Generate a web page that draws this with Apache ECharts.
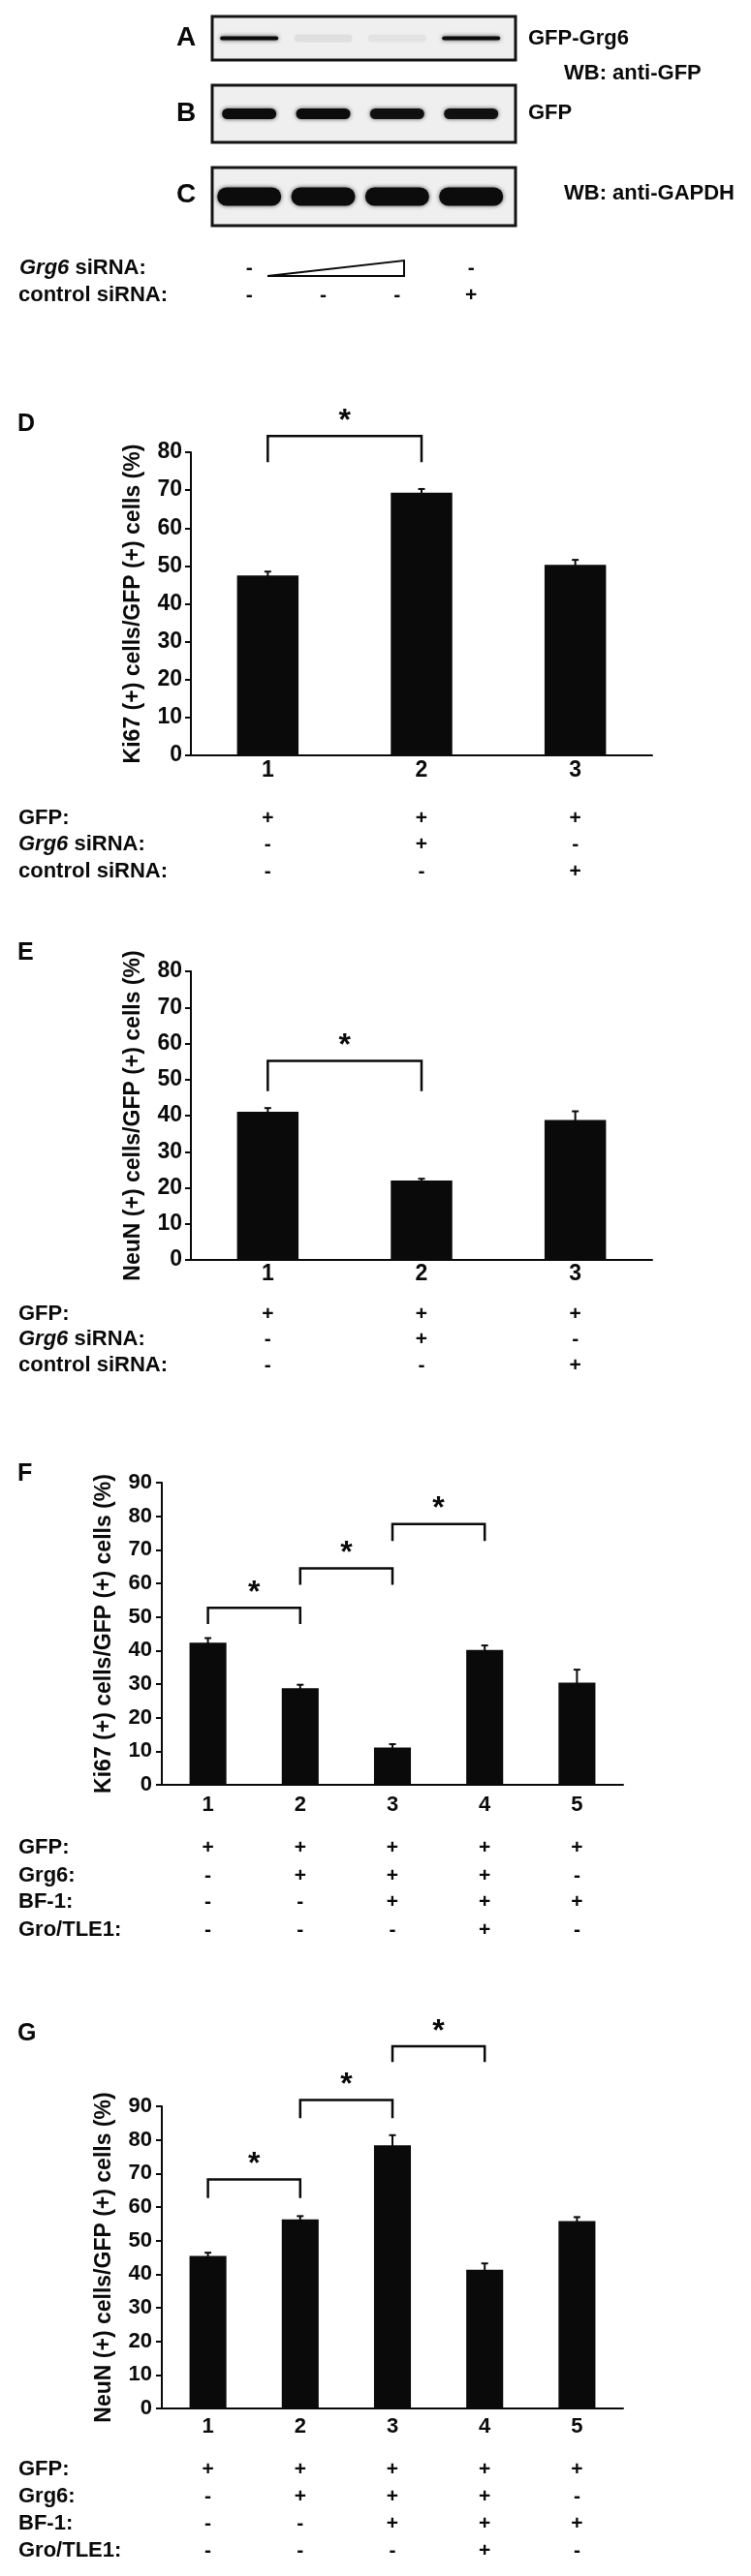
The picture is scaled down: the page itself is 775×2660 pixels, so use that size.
<!DOCTYPE html>
<html lang="en">
<head>
    <meta charset="UTF-8">
    <title>Grg6 siRNA figure</title>
    <script src="https://cdn.jsdelivr.net/npm/echarts@6/dist/echarts.min.js"></script>
    <style>
        html, body { margin: 0; padding: 0; background: #fff; }
    </style>
</head>
<body>
<div id="fig" style="width: 775px;height:2660px;"></div>
<script type="text/javascript">
    // ---- data ----
    var lanes = [1, 2, 3, 4];
    var blotA = [1, 0.07, 0.05, 1];        // GFP-Grg6 band strength
    var blotB = [1, 1, 0.95, 0.95];        // GFP
    var blotC = [1, 1, 1, 1];              // GAPDH
    var wbGrg6Signs = ['-', '', '', '-'];
    var wbControlSigns = ['-', '-', '-', '+'];

    var groups3 = ['1', '2', '3'];
    var ki67D = [47.5, 69.3, 50.3];
    var ki67DErr = [1.0, 1.0, 1.3];
    var neunE = [41.1, 22.0, 38.8];
    var neunEErr = [1.0, 0.5, 2.4];
    var rowNames3 = ['GFP:', '{i|Grg6} siRNA:', 'control siRNA:'];
    var gfp3 = ['+', '+', '+'];
    var grg6si3 = ['-', '+', '-'];
    var ctrlsi3 = ['-', '-', '+'];

    var groups5 = ['1', '2', '3', '4', '5'];
    var ki67F = [42.3, 28.8, 11.1, 40.2, 30.4];
    var ki67FErr = [1.4, 1.0, 1.0, 1.3, 3.9];
    var neunG = [45.4, 56.3, 78.4, 41.3, 55.8];
    var neunGErr = [1.0, 1.0, 3.0, 1.9, 1.2];
    var rowNames5 = ['GFP:', 'Grg6:', 'BF-1:', 'Gro/TLE1:'];
    var gfp5 = ['+', '+', '+', '+', '+'];
    var grg65 = ['-', '+', '+', '+', '-'];
    var bf15 = ['-', '-', '+', '+', '+'];
    var tle15 = ['-', '-', '-', '+', '-'];

    // significance brackets: [from, to, bracket level, leg end]
    var sigD = [[0, 1, 84.3, 77.4]];
    var sigE = [[0, 1, 55.2, 46.8]];
    var sigF = [[0, 1, 52.7, 47.9], [1, 2, 64.5, 59.6], [2, 3, 77.7, 72.6]];
    var sigG = [[0, 1, 68.2, 62.7], [1, 2, 91.9, 86.5], [2, 3, 107.9, 103.2]];

    var FONT = '"Liberation Sans", Arial, Helvetica, sans-serif';
    var INK = '#0a0a0a';

    var grids = [], xAxes = [], yAxes = [], series = [], graphics = [];

    function label(x, y, txt, size, align) {
        graphics.push({
            type: 'text', x: x, y: y, silent: true,
            style: {
                text: txt, fill: INK, fontFamily: FONT, fontWeight: 'bold', fontSize: size,
                align: align || 'left', verticalAlign: 'middle',
                rich: {i: {fontStyle: 'italic', fontWeight: 'bold', fontSize: size, fontFamily: FONT, fill: INK}}
            }
        });
    }

    // western blot strip
    function addBlot(box, bands, bw, bh) {
        var gi = grids.length;
        grids.push({left: box[0], top: box[1], width: box[2], height: box[3], show: true,
            borderColor: '#141414', borderWidth: 3, backgroundColor: '#efefef'});
        xAxes.push({gridIndex: gi, type: 'value', min: 0.5, max: 4.6, show: false});
        yAxes.push({gridIndex: gi, type: 'value', min: 0, max: 1, show: false});
        series.push({
            type: 'custom', xAxisIndex: gi, yAxisIndex: gi, silent: true,
            data: lanes.map(function (l, i) { return [l, bands[i]]; }),
            renderItem: function (params, api) {
                var c = api.coord([api.value(0), 0.5]);
                var k = api.value(1);
                var h = k < 0.5 ? bh + 4 : bh;
                return {
                    type: 'rect',
                    shape: {x: c[0] - bw / 2, y: c[1] - h / 2, width: bw, height: h, r: h / 2},
                    style: {fill: 'rgba(12,12,12,' + k + ')', shadowBlur: 4, shadowColor: 'rgba(0,0,0,' + (0.7 * k) + ')'}
                };
            }
        });
        return gi;
    }

    function renderErr(params, api) {
        var base = api.coord([api.value(0), api.value(1)]);
        var top = api.coord([api.value(0), api.value(1) + api.value(2)]);
        var st = {stroke: INK, lineWidth: 2};
        return {type: 'group', children: [
            {type: 'line', shape: {x1: base[0], y1: base[1] + 2, x2: top[0], y2: top[1]}, style: st},
            {type: 'line', shape: {x1: top[0] - 3.5, y1: top[1], x2: top[0] + 3.5, y2: top[1]}, style: st}
        ]};
    }

    function renderBracket(params, api) {
        var a = api.coord([api.value(0), api.value(3)]);
        var b = api.coord([api.value(0), api.value(2)]);
        var c = api.coord([api.value(1), api.value(2)]);
        var d = api.coord([api.value(1), api.value(3)]);
        return {type: 'group', children: [
            {type: 'polyline', shape: {points: [a, b, c, d]}, style: {stroke: INK, lineWidth: 2.5, fill: null}},
            {type: 'text', x: (b[0] + c[0]) / 2, y: b[1] - 15,
                style: {text: '*', fill: INK, fontFamily: FONT, fontWeight: 'bold', fontSize: 32,
                    align: 'center', verticalAlign: 'middle'}}
        ]};
    }

    function addBarPanel(p) {
        var gi = grids.length;
        grids.push({left: p.left, top: p.top, width: p.width, height: p.height});
        var axisStyle = {color: INK, width: 2};
        var xi = xAxes.length;
        xAxes.push({
            gridIndex: gi, type: 'category', data: p.groups,
            axisLine: {lineStyle: axisStyle},
            axisTick: {length: 6, lineStyle: axisStyle},
            axisLabel: {color: INK, fontFamily: FONT, fontWeight: 'bold', fontSize: p.fs,
                margin: p.numGap, verticalAlign: 'middle'}
        });
        p.rows.forEach(function (signs, r) {
            xAxes.push({
                gridIndex: gi, type: 'category', position: 'bottom', offset: p.rowGaps[r], data: p.groups,
                axisLine: {show: false}, axisTick: {show: false}, splitLine: {show: false},
                axisLabel: {interval: 0, margin: 0, verticalAlign: 'middle', color: INK, fontFamily: FONT,
                    fontWeight: 'bold', fontSize: 21,
                    formatter: function (v, i) { return signs[i]; }}
            });
            label(19, p.top + p.height + p.rowGaps[r], p.rowNames[r], 22);
        });
        var yi = yAxes.length;
        yAxes.push({
            gridIndex: gi, type: 'value', min: 0, max: p.yMax, interval: 10,
            name: p.yName, nameLocation: 'middle', nameGap: p.nameGap,
            nameTextStyle: {color: INK, fontFamily: FONT, fontWeight: 'bold', fontSize: 23},
            axisLine: {show: true, lineStyle: axisStyle},
            axisTick: {show: true, length: 6, lineStyle: axisStyle},
            splitLine: {show: false},
            axisLabel: {color: INK, fontFamily: FONT, fontWeight: 'bold', fontSize: p.fs, margin: p.labGap}
        });
        series.push({type: 'bar', xAxisIndex: xi, yAxisIndex: yi, data: p.values, barWidth: '40%',
            itemStyle: {color: INK}, silent: true});
        series.push({type: 'custom', xAxisIndex: xi, yAxisIndex: yi, silent: true, z: 3,
            data: p.values.map(function (v, i) { return [i, v, p.errors[i]]; }),
            renderItem: renderErr});
        series.push({type: 'custom', xAxisIndex: xi, yAxisIndex: yi, silent: true, clip: false,
            encode: {x: [0, 1], y: [2, 3]}, data: p.sig, renderItem: renderBracket});
        label(18, p.letterY, p.letter, 25);
    }

    // ---- panels A-C ----
    addBlot([219, 17, 313, 45], blotA, 60, 4);
    addBlot([219, 88, 313, 59], blotB, 56, 11);
    var gC = addBlot([219, 173, 313, 60], blotC, 66, 19);
    series.push({
        type: 'custom', xAxisIndex: gC, yAxisIndex: gC, silent: true, clip: false,
        data: lanes.map(function (l, i) { return [l, i]; }),
        renderItem: function (params, api) {
            var i = api.value(1);
            var p = api.coord([api.value(0), 0]);
            var st = {fill: INK, fontFamily: FONT, fontWeight: 'bold', fontSize: 21, align: 'center', verticalAlign: 'middle'};
            return {type: 'group', children: [
                {type: 'text', x: p[0], y: p[1] + 44, style: Object.assign({text: wbGrg6Signs[i]}, st)},
                {type: 'text', x: p[0], y: p[1] + 72, style: Object.assign({text: wbControlSigns[i]}, st)}
            ]};
        }
    });
    graphics.push({type: 'polygon', silent: true, shape: {points: [[276, 285], [417, 269], [417, 285]]},
        style: {fill: '#fff', stroke: INK, lineWidth: 2}});
    label(192, 39, 'A', 28, 'center');
    label(192, 117, 'B', 28, 'center');
    label(192, 201, 'C', 28, 'center');
    label(545, 40, 'GFP-Grg6', 22);
    label(582, 76, 'WB: anti-GFP', 22);
    label(545, 117, 'GFP', 22);
    label(582, 200, 'WB: anti-GAPDH', 22);
    label(20, 277, '{i|Grg6} siRNA:', 22);
    label(19, 305, 'control siRNA:', 22);

    // ---- panels D-G ----
    addBarPanel({letter: 'D', letterY: 438, left: 197, top: 467, width: 476, height: 313, yMax: 80,
        yName: 'Ki67 (+) cells/GFP (+) cells (%)', nameGap: 48, labGap: 9, fs: 23, numGap: 16,
        groups: groups3, values: ki67D, errors: ki67DErr, sig: sigD,
        rows: [gfp3, grg6si3, ctrlsi3], rowNames: rowNames3, rowGaps: [65, 92, 120]});
    addBarPanel({letter: 'E', letterY: 984, left: 197, top: 1003, width: 476, height: 298, yMax: 80,
        yName: 'NeuN (+) cells/GFP (+) cells (%)', nameGap: 48, labGap: 9, fs: 23, numGap: 15,
        groups: groups3, values: neunE, errors: neunEErr, sig: sigE,
        rows: [gfp3, grg6si3, ctrlsi3], rowNames: rowNames3, rowGaps: [56, 82, 109]});
    addBarPanel({letter: 'F', letterY: 1522, left: 167, top: 1531, width: 476, height: 312, yMax: 90,
        yName: 'Ki67 (+) cells/GFP (+) cells (%)', nameGap: 48, labGap: 10, fs: 22, numGap: 21,
        groups: groups5, values: ki67F, errors: ki67FErr, sig: sigF,
        rows: [gfp5, grg65, bf15, tle15], rowNames: rowNames5, rowGaps: [65, 94, 121, 150]});
    addBarPanel({letter: 'G', letterY: 2100, left: 167, top: 2175, width: 476, height: 312, yMax: 90,
        yName: 'NeuN (+) cells/GFP (+) cells (%)', nameGap: 48, labGap: 10, fs: 22, numGap: 19,
        groups: groups5, values: neunG, errors: neunGErr, sig: sigG,
        rows: [gfp5, grg65, bf15, tle15], rowNames: rowNames5, rowGaps: [63, 91, 119, 147]});

    var fig = echarts.init(document.getElementById('fig'));
    fig.setOption({
        backgroundColor: '#fff',
        animation: false,
        textStyle: {fontFamily: FONT},
        grid: grids,
        xAxis: xAxes,
        yAxis: yAxes,
        series: series,
        graphic: graphics
    });
</script>
</body>
</html>
